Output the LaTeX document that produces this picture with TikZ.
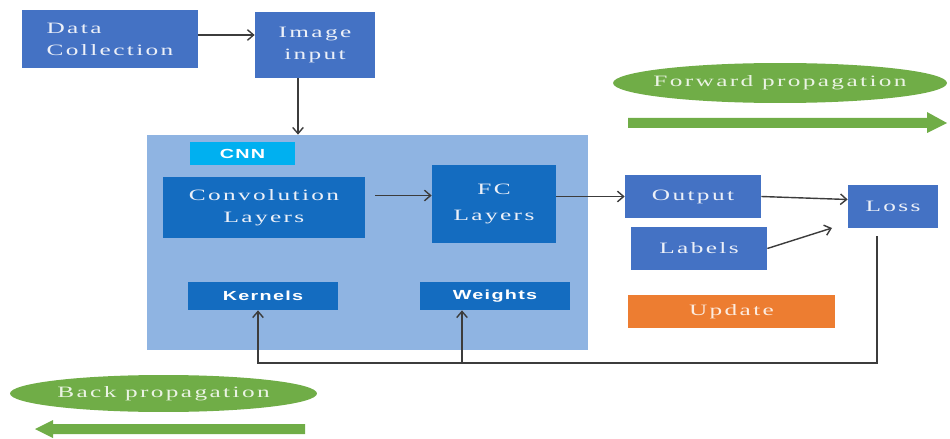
\documentclass[tikz,border=0pt]{standalone}
\usepackage{fontspec}
\setmainfont{Liberation Serif}
\newfontfamily\widefont[FakeStretch=1.6,LetterSpace=15]{Liberation Serif}
\newfontfamily\widesans[FakeStretch=1.5,LetterSpace=10]{Liberation Sans}
\usetikzlibrary{arrows.meta}
\definecolor{midblue}{RGB}{68,114,196}
\definecolor{deepblue}{RGB}{20,108,192}
\definecolor{cnnback}{RGB}{143,180,226}
\definecolor{cnncyan}{RGB}{0,176,240}
\definecolor{upd}{RGB}{237,125,49}
\definecolor{leaf}{RGB}{112,173,71}
\definecolor{wire}{RGB}{60,60,60}
\definecolor{paletext}{RGB}{236,240,248}
\begin{document}
\begin{tikzpicture}[x=0.02cm,y=-0.02cm,
    box/.style={fill=midblue,text=paletext,align=center,inner sep=0pt,
      font=\widefont\fontsize{9}{12.5}\selectfont},
    layer/.style={box,fill=deepblue},
    param/.style={fill=deepblue,text=white,inner sep=0pt,
      font=\widesans\bfseries\fontsize{7.5}{9}\selectfont},
    propa/.style={text=white!85!leaf,inner sep=0pt,
      font=\widefont\fontsize{9}{10}\selectfont},
    arr/.style={draw=wire,line width=0.8pt,-{Straight Barb[length=3.5pt,width=6pt]}}]
  \useasboundingbox (0,0) rectangle (950,439);
  % input side
  \node[box,align=left,minimum width=3.52cm,minimum height=1.16cm] (data) at (110,39) {Data\\Collection};
  \node[box,minimum width=2.4cm,minimum height=1.32cm] (image) at (315,45) {Image\\input};
  % the CNN block
  \node[fill=cnnback,minimum width=8.82cm,minimum height=4.3cm] (cnn) at (367.5,242.5) {};
  \node[param,fill=cnncyan,minimum width=2.1cm,minimum height=0.46cm] (cnntag) at (242.5,153.5) {CNN};
  \node[layer,minimum width=4.04cm,minimum height=1.22cm] (conv) at (264,207.5) {Convolution\\Layers};
  \node[layer,minimum width=2.48cm,minimum height=1.56cm,font=\widefont\fontsize{9}{15}\selectfont] (fc) at (494,204) {FC\\Layers};
  \node[param,minimum width=3cm,minimum height=0.56cm] (kernels) at (263,296) {Kernels};
  \node[param,minimum width=3cm,minimum height=0.56cm] (weights) at (495,296) {Weights};
  % output side
  \node[box,minimum width=2.72cm,minimum height=0.86cm] (output) at (693,196.5) {Output};
  \node[box,minimum width=2.72cm,minimum height=0.86cm] (labels) at (699,248.5) {Labels};
  \node[box,minimum width=1.8cm,minimum height=0.86cm] (loss) at (893,206.5) {Loss};
  \node[box,fill=upd,text=white!85!upd,minimum width=4.14cm,minimum height=0.66cm] (update) at (731.5,311.5) {Update};
  % propagation marks
  \fill[leaf] (780,83) ellipse [x radius=3.34cm,y radius=0.4cm];
  \node[propa] (fwdtext) at (780,83) {Forward propagation};
  \fill[leaf] (628,118)--(927,118)--(927,112)--(947,123)--(927,133)--(927,128)--(628,128)--cycle;
  \fill[leaf] (163.5,393.5) ellipse [x radius=3.07cm,y radius=0.37cm];
  \node[propa] (backtext) at (163.5,393.5) {Back propagation};
  \fill[leaf] (305,424)--(53,424)--(53,420)--(35,429)--(53,438)--(53,434)--(305,434)--cycle;
  % connectors
  \coordinate (imgdrop) at ([xshift=-0.34cm]image.south);
  \coordinate (lblend) at (832,228);
  \coordinate (lossdrop) at ([xshift=-0.32cm,yshift=-0.16cm]loss.south);
  \coordinate (fbbase) at (0,363);
  \coordinate (kin) at ([xshift=-0.1cm]kernels.south);
  \coordinate (win) at ([xshift=-0.66cm]weights.south);
  \draw[arr] ([yshift=0.08cm]data.east) -- ([yshift=0.08cm]data.east -| image.west);
  \draw[arr] (imgdrop) -- (imgdrop |- cnn.north);
  \draw[arr,shorten <=0.2cm] ([yshift=0.24cm]conv.east) -- ([yshift=0.24cm]conv.east -| fc.west);
  \draw[arr] (fc.east |- output.west) -- (output.west);
  \draw[arr] (output.east) -- ([yshift=0.14cm]loss.west);
  \draw[arr] (labels.east) -- (lblend);
  \draw[arr] (lossdrop) |- (kin |- fbbase) -- (kin);
  \draw[arr] (win |- fbbase) -- (win);
\end{tikzpicture}
\end{document}
